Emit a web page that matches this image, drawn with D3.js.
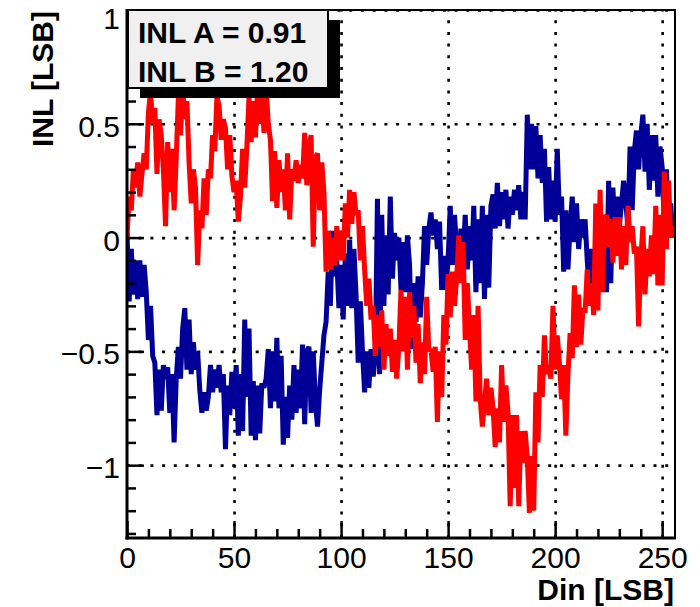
<!DOCTYPE html>
<html>
<head>
<meta charset="utf-8">
<script src="https://cdn.jsdelivr.net/npm/d3@7"></script>
<style>
  html, body { margin: 0; padding: 0; background: #fff; }
  svg { display: block; font-family: "Liberation Sans", Arial, Helvetica, sans-serif; }
</style>
</head>
<body>
<svg id="chart" width="700" height="607"></svg>
<script>
// INL per input code (LSB) for the two converters
const inlA = [
  0.00, 0.18, 0.12, 0.30, 0.22, 0.33, 0.18, 0.28, 0.37, 0.30, 0.55, 0.64, 0.50, 0.57, 0.28, 0.52,
  0.45, 0.30, 0.05, 0.42, 0.20, 0.39, 0.12, 0.35, 0.62, 0.45, 0.66, 0.52, 0.60, 0.33, 0.15, 0.30,
  0.22, -0.12, 0.12, 0.04, 0.26, 0.10, 0.30, 0.26, 0.45, 0.38, 0.62, 0.58, 0.43, 0.52, 0.48, 0.30,
  0.45, 0.27, 0.20, 0.25, 0.07, 0.18, 0.39, 0.22, 0.40, 0.62, 0.42, 0.60, 0.44, 0.66, 0.50, 0.64,
  0.46, 0.66, 0.50, 0.43, 0.16, 0.38, 0.13, 0.34, 0.20, 0.30, 0.12, 0.37, 0.08, 0.30, 0.25, 0.34,
  0.24, 0.32, 0.26, 0.46, 0.23, 0.40, 0.45, -0.04, 0.35, 0.37, 0.12, 0.33, 0.20, -0.15, 0.03, -0.14,
  0.00, -0.12, 0.05, -0.10, 0.03, -0.10, 0.15, 0.00, 0.21, 0.06, 0.20, 0.10, 0.12, -0.10, 0.05, -0.14,
  -0.30, -0.18, -0.36, -0.30, -0.52, -0.34, -0.48, -0.32, -0.58, -0.38, -0.52, -0.40, -0.59, -0.45, -0.62, -0.48,
  -0.23, -0.50, -0.26, -0.58, -0.24, -0.44, -0.30, -0.55, -0.38, -0.64, -0.46, -0.60, -0.26, -0.50, -0.49, -0.59,
  -0.48, -0.81, -0.50, -0.70, -0.34, -0.47, -0.16, -0.35, -0.15, -0.30, -0.18, 0.01, -0.20, -0.02, -0.45, -0.20,
  -0.40, -0.58, -0.34, -0.72, -0.30, -0.71, -0.83, -0.72, -0.62, -0.78, -0.66, -0.75, -0.92, -0.75, -0.90, -0.56,
  -0.81, -0.65, -0.77, -1.18, -0.78, -1.10, -0.78, -1.18, -0.85, -0.99, -0.85, -0.97, -1.21, -0.96, -1.20, -0.68,
  -0.90, -0.56, -0.70, -0.43, -0.60, -0.56, -0.62, -0.30, -0.58, -0.43, -0.55, -0.71, -0.56, -0.87, -0.60, -0.42,
  -0.53, -0.21, -0.48, -0.25, -0.47, -0.31, -0.33, -0.14, -0.30, -0.20, -0.34, 0.15, -0.32, 0.21, -0.24, 0.05,
  0.10, -0.04, 0.08, -0.11, 0.09, -0.08, 0.09, -0.14, 0.05, -0.12, 0.14, -0.02, 0.05, -0.07, -0.04, -0.39,
  -0.10, 0.05, -0.25, -0.05, -0.17, 0.01, -0.16, 0.14, -0.21, 0.10, -0.21, 0.29, -0.05, 0.25, 0.00, 0.05
];

const inlB = [
  0.02, -0.28, -0.05, -0.25, -0.10, -0.27, -0.10, -0.26, -0.12, -0.24, -0.45, -0.30, -0.52, -0.55, -0.78, -0.58,
  -0.76, -0.56, -0.62, -0.57, -0.77, -0.60, -0.90, -0.62, -0.48, -0.62, -0.40, -0.31, -0.58, -0.36, -0.60, -0.46,
  -0.58, -0.50, -0.67, -0.77, -0.68, -0.76, -0.70, -0.56, -0.68, -0.58, -0.66, -0.56, -0.68, -0.60, -0.93, -0.65,
  -0.78, -0.59, -0.75, -0.56, -0.87, -0.60, -0.85, -0.36, -0.70, -0.40, -0.87, -0.63, -0.89, -0.65, -0.86, -0.64,
  -0.66, -0.62, -0.49, -0.75, -0.50, -0.72, -0.44, -0.75, -0.52, -0.91, -0.70, -0.88, -0.65, -0.80, -0.56, -0.77,
  -0.58, -0.75, -0.47, -0.82, -0.50, -0.48, -0.77, -0.50, -0.72, -0.83, -0.67, -0.55, -0.43, -0.37, -0.15, -0.30,
  0.03, -0.17, -0.10, -0.31, -0.12, -0.36, -0.07, -0.30, -0.01, -0.31, -0.05, -0.25, -0.55, -0.28, -0.50, -0.68,
  -0.50, -0.66, -0.49, -0.61, -0.52, 0.17, -0.60, 0.10, -0.30, 0.01, -0.25, 0.18, -0.18, 0.02, -0.10, 0.00,
  -0.23, -0.02, -0.24, 0.01, -0.12, -0.49, -0.20, -0.37, -0.17, -0.35, -0.20, 0.05, -0.12, 0.04, 0.11, 0.01,
  0.08, -0.05, 0.07, -0.23, -0.08, -0.23, -0.10, 0.14, -0.12, 0.10, -0.05, -0.18, 0.04, -0.10, 0.10, -0.14,
  0.05, -0.10, 0.14, -0.24, 0.08, -0.20, 0.14, -0.27, 0.10, -0.22, 0.14, 0.19, 0.04, 0.24, 0.05, 0.20,
  0.08, 0.21, 0.04, 0.18, 0.10, 0.21, 0.12, 0.23, 0.08, 0.20, 0.08, 0.54, 0.30, 0.50, 0.30, 0.49,
  0.26, 0.45, 0.24, 0.39, 0.07, 0.31, 0.08, 0.25, 0.07, 0.39, 0.10, 0.18, -0.15, 0.12, -0.14, 0.05,
  0.18, -0.02, 0.15, -0.05, 0.08, 0.00, 0.08, -0.10, -0.23, -0.05, -0.21, -0.05, -0.12, 0.05, -0.05, 0.10,
  -0.24, 0.25, -0.20, 0.22, 0.00, 0.18, 0.05, 0.15, 0.25, 0.15, 0.05, 0.40, 0.12, 0.38, 0.47, 0.30,
  0.45, 0.54, 0.29, 0.50, 0.21, 0.45, 0.25, 0.45, 0.18, 0.40, 0.31, 0.05, 0.30, 0.01, 0.15, 0.00
];

const xMajorTicks = [0, 50, 100, 150, 200, 250];
const xMinorTicks = [10, 20, 30, 40, 60, 70, 80, 90, 110, 120, 130, 140, 160, 170, 180, 190, 210, 220, 230, 240];
const yMajorTicks = [-1, -0.5, 0, 0.5, 1];
const yMinorTicks = [-1.3, -1.2, -1.1, -0.9, -0.8, -0.7, -0.6, -0.4, -0.3, -0.2, -0.1, 0.1, 0.2, 0.3, 0.4, 0.6, 0.7, 0.8, 0.9];
const legendLines = ["INL A = 0.91", "INL B = 1.20"];

const seriesColors = { A: "#ff0000", B: "#000099" };

const frame = { left: 127, right: 675, top: 10, bottom: 538 };
const svg = d3.select("#chart");

const x = d3.scaleLinear().domain([0, 256]).range([frame.left, frame.right]);
const y = d3.scaleLinear().domain([-1.32, 1]).range([frame.bottom, frame.top]);

const plotH = frame.bottom - frame.top;
const plotW = frame.right - frame.left;

// dotted grid
const gridStyle = g => {
  g.select(".domain").remove();
  g.selectAll("text").remove();
  g.selectAll("line")
    .attr("stroke", "#000")
    .attr("stroke-width", 2.6)
    .attr("stroke-dasharray", "3 8.7");
};
svg.append("g")
  .attr("transform", `translate(0,${frame.bottom})`)
  .call(d3.axisBottom(x).tickValues([50, 100, 150, 200, 250]).tickSize(-plotH).tickFormat(""))
  .call(gridStyle);
svg.append("g")
  .attr("transform", `translate(${frame.left},0)`)
  .call(d3.axisLeft(y).tickValues([-1, -0.5, 0, 0.5, 1]).tickSize(-plotW).tickFormat(""))
  .call(gridStyle);

// data lines, clipped to the frame
svg.append("clipPath").attr("id", "plot-clip")
  .append("rect")
  .attr("x", frame.left).attr("y", frame.top)
  .attr("width", plotW).attr("height", plotH);

const line = d3.line().x((d, i) => x(i)).y(d => y(d));
const lines = svg.append("g").attr("clip-path", "url(#plot-clip)");
lines.append("path")
  .datum(inlB)
  .attr("d", line)
  .attr("fill", "none")
  .attr("stroke", seriesColors.B)
  .attr("stroke-width", 5)
  .attr("stroke-miterlimit", 2);
lines.append("path")
  .datum(inlA)
  .attr("d", line)
  .attr("fill", "none")
  .attr("stroke", seriesColors.A)
  .attr("stroke-width", 5)
  .attr("stroke-miterlimit", 2);

// axes with inward ticks
const axisText = g => {
  g.select(".domain").remove();
  g.selectAll("line").attr("stroke", "#000").attr("stroke-width", 2.5);
  g.selectAll("text")
    .attr("fill", "#000")
    .style("font-size", "30px");
};

svg.append("g")
  .attr("transform", `translate(0,${frame.bottom})`)
  .call(d3.axisBottom(x).tickValues(xMinorTicks).tickSize(-9).tickFormat(""))
  .call(axisText);
svg.append("g")
  .attr("transform", `translate(0,${frame.bottom})`)
  .call(d3.axisBottom(x).tickValues(xMajorTicks).tickSize(-17).tickPadding(9).tickFormat(d3.format("d")))
  .call(axisText);

svg.append("g")
  .attr("transform", `translate(${frame.left},0)`)
  .call(d3.axisLeft(y).tickValues(yMinorTicks).tickSize(-9).tickFormat(""))
  .call(axisText);
const yAxis = svg.append("g")
  .attr("transform", `translate(${frame.left},0)`)
  .call(d3.axisLeft(y).tickValues(yMajorTicks).tickSize(-17).tickPadding(7)
    .tickFormat(d => d3.format("")(d).replace("-", "\u2212")))
  .call(axisText);
yAxis.selectAll("text").attr("dy", "0.42em");
yAxis.selectAll("text").filter(d => d === 1).attr("dy", "0.62em");

// frame
svg.append("line").attr("x1", frame.left).attr("x2", frame.right)
  .attr("y1", frame.top).attr("y2", frame.top).attr("stroke", "#000").attr("stroke-width", 2);
svg.append("line").attr("x1", frame.right).attr("x2", frame.right)
  .attr("y1", frame.top - 1).attr("y2", frame.bottom).attr("stroke", "#000").attr("stroke-width", 2);
svg.append("line").attr("x1", frame.left).attr("x2", frame.left)
  .attr("y1", frame.top - 1).attr("y2", frame.bottom + 1.5).attr("stroke", "#000").attr("stroke-width", 3);
svg.append("line").attr("x1", frame.left - 1.5).attr("x2", frame.right + 1)
  .attr("y1", frame.bottom).attr("y2", frame.bottom).attr("stroke", "#000").attr("stroke-width", 3);

// axis titles
svg.append("text")
  .attr("x", 674).attr("y", 600)
  .attr("text-anchor", "end")
  .style("font-size", "30px").style("font-weight", "bold")
  .text("Din [LSB]");
svg.append("text")
  .attr("transform", "translate(53,11) rotate(-90)")
  .attr("text-anchor", "end")
  .style("font-size", "30px").style("font-weight", "bold")
  .text("INL [LSB]");

// legend box with drop shadow
const legend = svg.append("g");
legend.append("rect")
  .attr("x", 140).attr("y", 20).attr("width", 200).attr("height", 78)
  .attr("fill", "#000");
legend.append("rect")
  .attr("x", 128).attr("y", 10).attr("width", 200).attr("height", 78)
  .attr("fill", "#f0f0f0").attr("stroke", "#000").attr("stroke-width", 2);
legend.selectAll("text.entry")
  .data(legendLines)
  .join("text")
  .attr("class", "entry")
  .attr("x", 138)
  .attr("y", (d, i) => 43 + i * 39)
  .style("font-size", "30px").style("font-weight", "bold")
  .text(d => d);
</script>
</body>
</html>
